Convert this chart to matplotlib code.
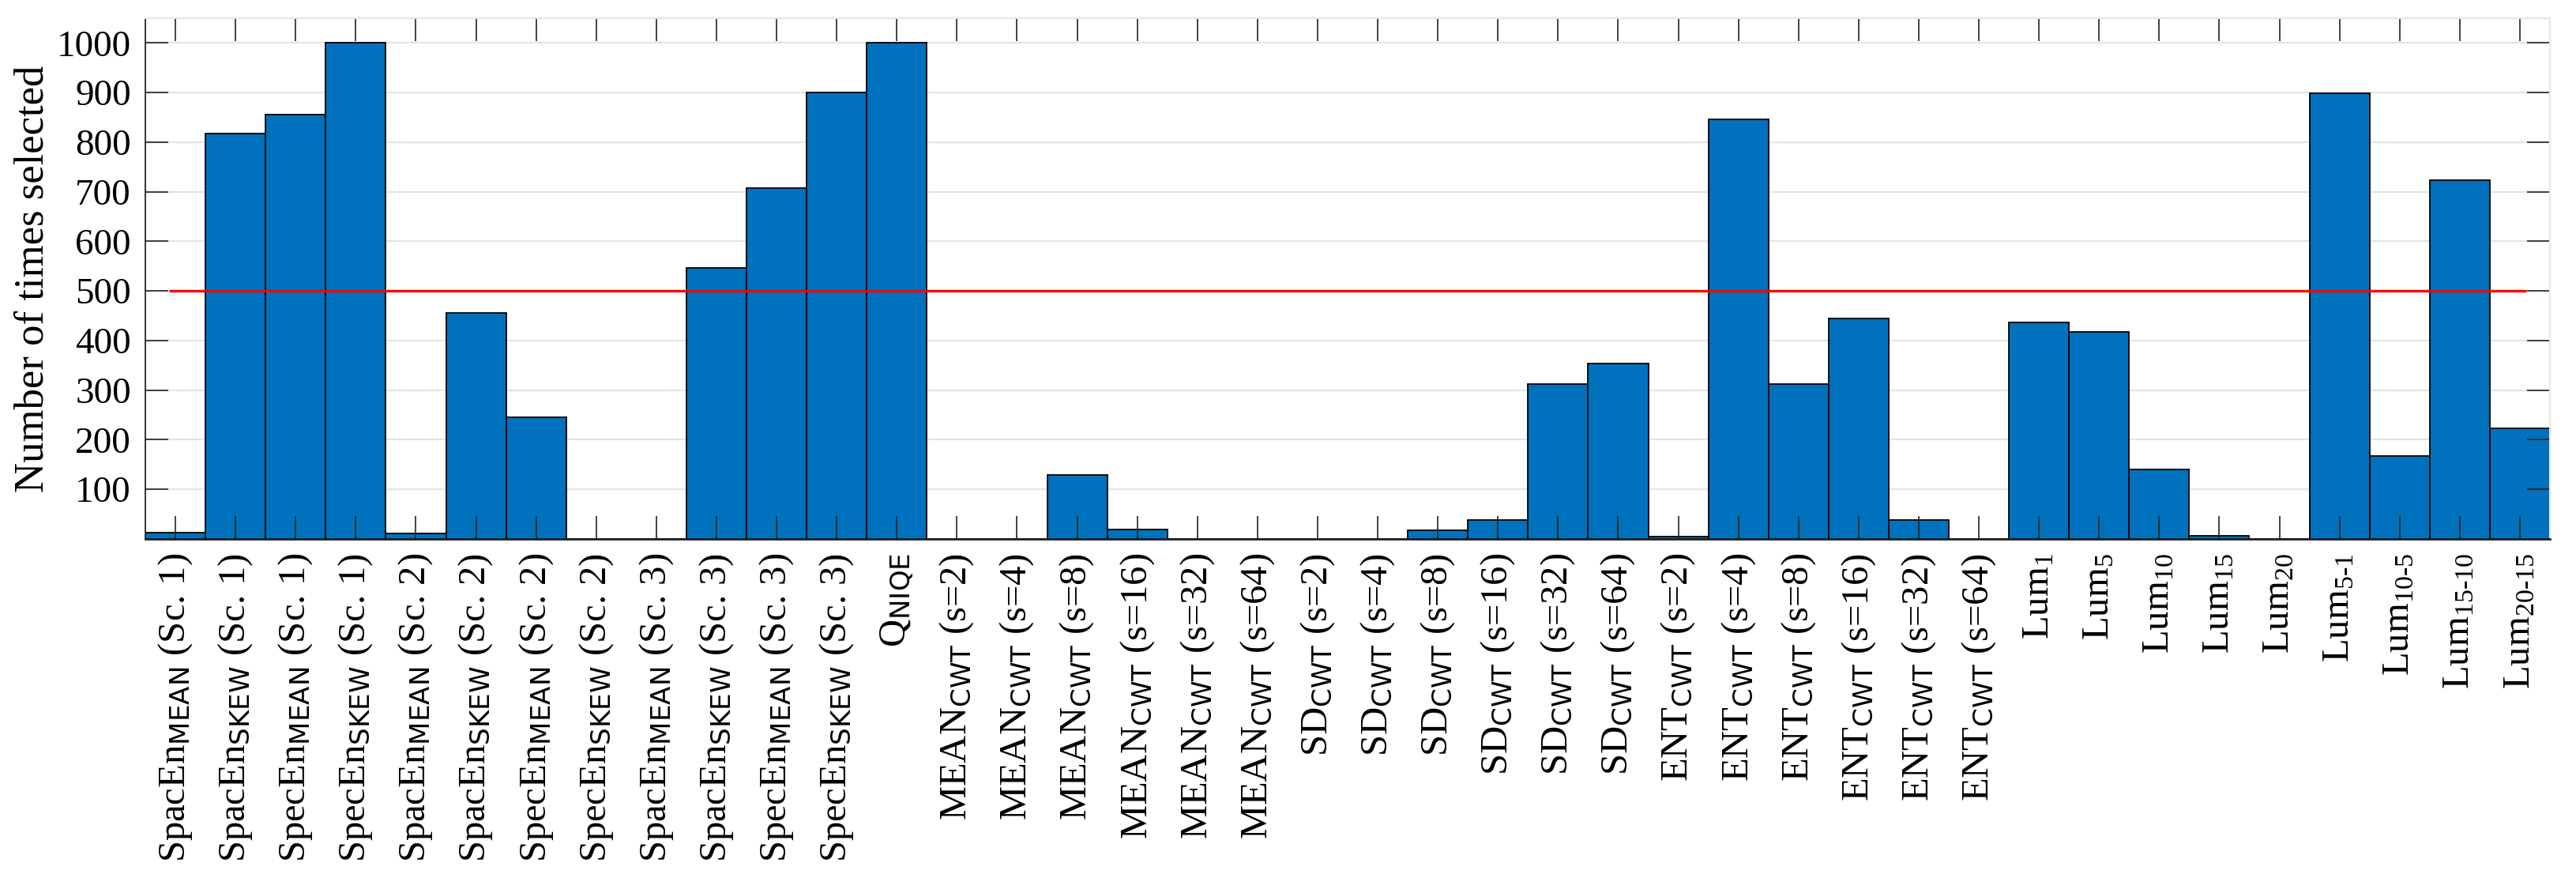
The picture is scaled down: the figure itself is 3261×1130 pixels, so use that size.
import matplotlib
matplotlib.use("Agg")
import matplotlib.pyplot as plt
import numpy as np

plt.rcParams['font.family'] = 'Liberation Serif'
plt.rcParams['mathtext.fontset'] = 'custom'
plt.rcParams['mathtext.rm'] = 'Liberation Serif'
plt.rcParams['mathtext.it'] = 'Liberation Serif:italic'
plt.rcParams['mathtext.sf'] = 'DejaVu Sans'

# feature names (subscripts as mathtext)
labels = [
    r'SpacEn$_{\mathsf{MEAN}}$ (Sc. 1)', r'SpacEn$_{\mathsf{SKEW}}$ (Sc. 1)',
    r'SpecEn$_{\mathsf{MEAN}}$ (Sc. 1)', r'SpecEn$_{\mathsf{SKEW}}$ (Sc. 1)',
    r'SpacEn$_{\mathsf{MEAN}}$ (Sc. 2)', r'SpacEn$_{\mathsf{SKEW}}$ (Sc. 2)',
    r'SpecEn$_{\mathsf{MEAN}}$ (Sc. 2)', r'SpecEn$_{\mathsf{SKEW}}$ (Sc. 2)',
    r'SpacEn$_{\mathsf{MEAN}}$ (Sc. 3)', r'SpacEn$_{\mathsf{SKEW}}$ (Sc. 3)',
    r'SpecEn$_{\mathsf{MEAN}}$ (Sc. 3)', r'SpecEn$_{\mathsf{SKEW}}$ (Sc. 3)',
    r'Q$_{\mathsf{NIQE}}$',
]
scales = [2, 4, 8, 16, 32, 64]
for name in ['MEAN', 'SD', 'ENT']:
    for s in scales:
        labels.append(name + r'$_{\mathsf{CWT}}$ (s=%d)' % s)
labels += [r'Lum$_{\mathrm{1}}$', r'Lum$_{\mathrm{5}}$', r'Lum$_{\mathrm{10}}$',
           r'Lum$_{\mathrm{15}}$', r'Lum$_{\mathrm{20}}$',
           r'Lum$_{\mathrm{5\text{-}1}}$', r'Lum$_{\mathrm{10\text{-}5}}$',
           r'Lum$_{\mathrm{15\text{-}10}}$', r'Lum$_{\mathrm{20\text{-}15}}$']

counts = [12, 818, 856, 1000, 11, 455, 246, 0, 0, 546, 707, 901, 1000,
          0, 0, 129, 19, 0, 0,
          0, 0, 17, 38, 312, 353,
          5, 846, 312, 444, 38, 0,
          436, 417, 140, 7, 0,
          898, 167, 724, 223]
threshold = 500
yticks = [100, 200, 300, 400, 500, 600, 700, 800, 900, 1000]

fig = plt.figure(figsize=(32.62, 11.30), dpi=100)
ax = fig.add_axes([184 / 3262, 1 - 682 / 1130, 3044 / 3262, 659 / 1130])

x = np.arange(1, len(counts) + 1)

# light horizontal grid under the bars
for y in yticks:
    ax.axhline(y, color='#e4e4e4', lw=1.6, zorder=0)

ax.bar(x, counts, width=1.0, color='#0072BD', edgecolor='black', linewidth=1.3, zorder=1)
ax.hlines(threshold, 0.9, len(counts) + 0.1, color='red', lw=2.4, zorder=3)

ax.set_xlim(0.5, len(counts) + 0.5)
ax.set_ylim(0, 1050)
ax.set_xticks(x)
ax.set_xticklabels(labels, rotation=90, fontsize=35)
ax.set_yticks(yticks)
ax.set_yticklabels([str(v) for v in yticks], fontsize=34)
ax.tick_params(direction='in', length=21, width=1.2, top=True, right=True,
               color='#222222', pad=13)

ax.set_ylabel('Number of times selected', fontsize=38)
ax.yaxis.set_label_coords(-0.039, 0.5)

ax.spines['left'].set_color('#222222')
ax.spines['left'].set_linewidth(1.3)
ax.spines['bottom'].set_color('#222222')
ax.spines['bottom'].set_linewidth(2.0)
ax.spines['top'].set_color('#e6e6e6')
ax.spines['right'].set_color('#e6e6e6')
ax.spines['top'].set_linewidth(1.5)
ax.spines['right'].set_linewidth(1.5)

fig.savefig('out.png', dpi=100)
